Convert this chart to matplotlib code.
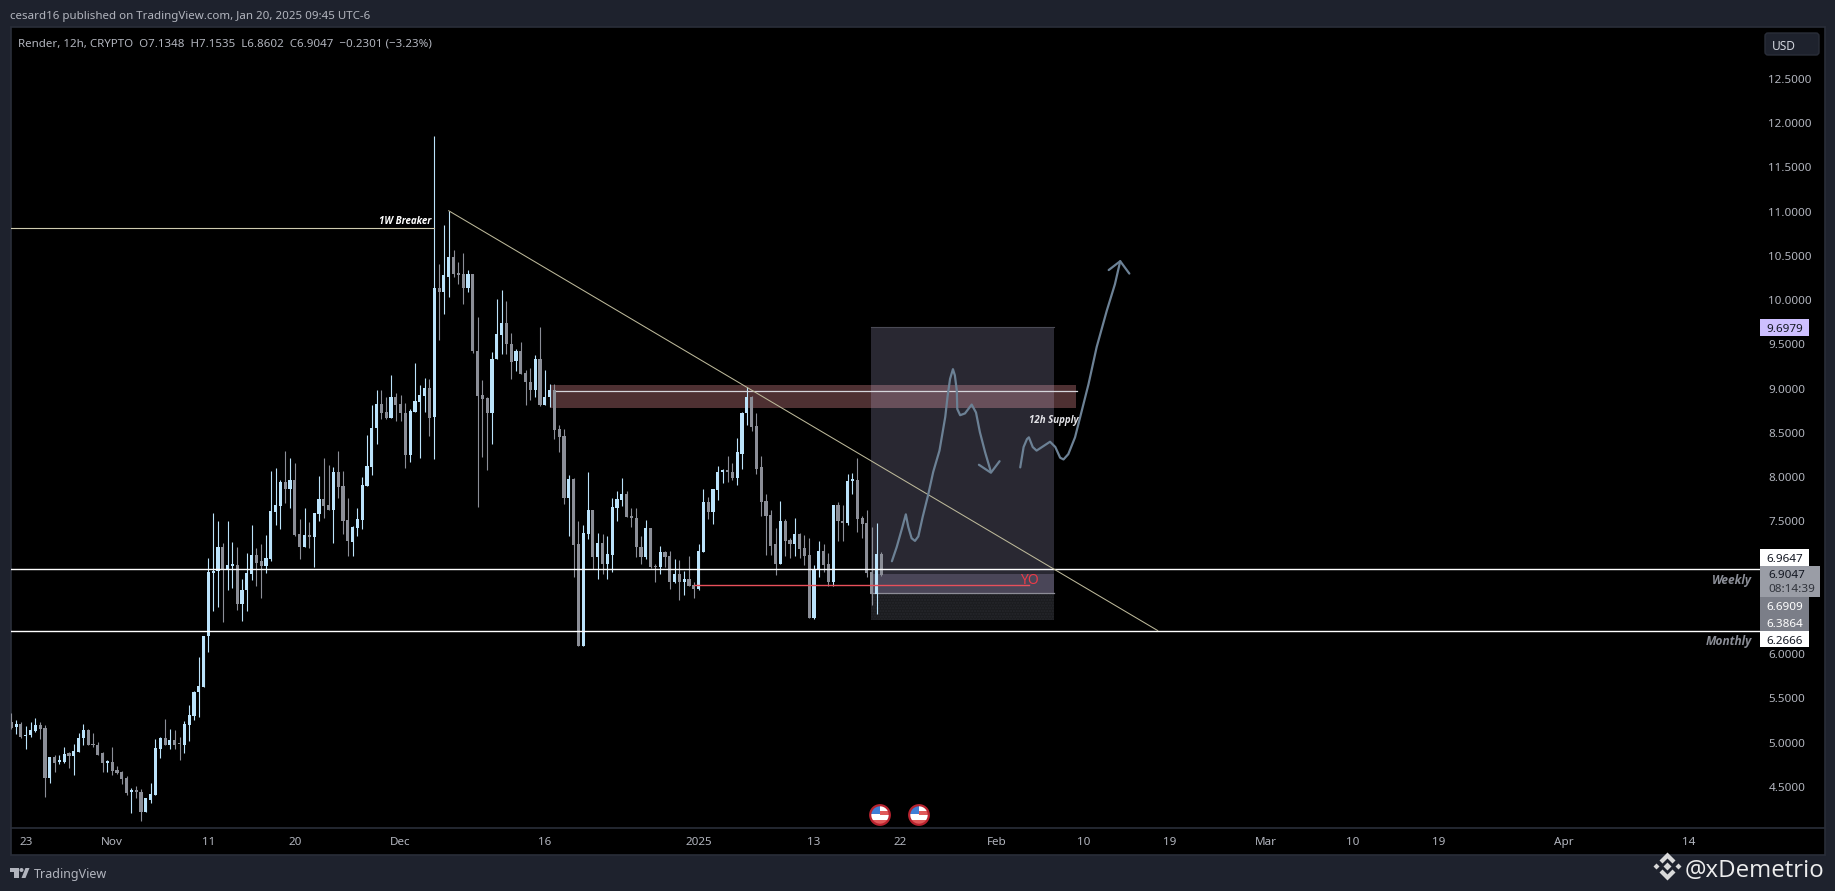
import matplotlib
matplotlib.use("Agg")
import matplotlib.pyplot as plt
import pandas as pd
from matplotlib.patches import Rectangle, Polygon, Circle, FancyBboxPatch

W, H = 1835, 891
plt.rcParams['font.family'] = ['Noto Sans', 'DejaVu Sans']

# candles, 12h bars from Oct 21 12:00
first_bar = pd.Timestamp("2024-10-21 12:00")
direction = ("duduu uddud uuduu udddd udddd uddUu uudud duuuu uuuud uuduu uddUu uudud duduu ddudd duuuu uuddu "
             "ddduu uudud uuddd udddd uuudd udddu duudd duddu ududu uuudd ddudd uddud uddUu duuud duuud ddddd "
             "uddud dduud duddu udddd ud").replace(" ", "").lower()
highs = [5.34,5.26,5.23,5.19,5.23,5.28,5.23,5.20,4.84,4.86,
         4.86,4.95,4.89,4.98,5.11,5.21,5.15,5.11,5.01,4.89,
         4.80,4.95,4.74,4.68,4.62,4.49,4.51,4.48,4.38,4.54,
         5.04,5.06,5.27,5.15,5.14,5.06,5.24,5.43,5.58,5.97,
         6.21,7.09,7.59,7.51,7.26,7.51,7.27,7.21,6.85,7.14,
         7.46,7.20,7.25,7.35,8.07,8.10,7.97,8.30,8.22,8.16,
         7.53,7.65,7.49,7.59,8.01,8.22,8.14,8.11,8.30,8.07,
         7.76,7.45,7.65,8.00,8.48,8.81,8.99,8.99,8.91,9.15,
         8.95,8.93,8.84,8.77,9.29,9.04,9.12,9.11,11.86,10.41,
         10.85,11.01,10.57,10.43,10.53,10.34,10.29,9.81,9.10,8.91,
         9.41,10.01,10.11,9.99,9.63,9.45,9.53,9.21,9.23,9.38,
         9.70,9.21,9.05,9.05,8.59,8.54,8.02,7.99,7.51,7.46,
         8.06,7.63,7.37,7.36,7.34,7.77,7.84,7.99,7.84,7.65,
         7.65,7.33,7.52,7.43,7.02,7.22,7.17,7.17,7.07,7.06,
         6.94,7.11,6.82,7.25,7.87,7.78,7.87,8.13,8.09,8.24,
         8.16,8.44,8.74,9.02,8.92,8.72,8.24,7.81,7.63,7.42,
         7.73,7.53,7.31,7.54,7.37,7.35,7.31,7.01,7.28,7.24,
         7.14,7.69,7.72,7.68,8.03,8.05,8.22,7.56,7.63,7.44,7.48,7.16]
body_top = [5.23,5.21,5.21,5.09,5.14,5.20,5.20,5.17,4.84,4.84,
            4.79,4.87,4.88,4.91,5.05,5.14,5.14,4.98,4.97,4.88,
            4.79,4.78,4.69,4.67,4.60,4.45,4.45,4.44,4.37,4.42,
            4.94,5.05,5.05,5.03,5.03,4.99,5.21,5.31,5.57,5.64,
            6.21,6.93,6.94,7.21,7.21,7.01,7.01,7.01,6.73,6.92,
            7.12,7.12,7.05,7.09,7.62,7.68,7.94,7.94,7.97,7.97,
            7.36,7.35,7.35,7.59,7.75,7.75,7.68,8.06,8.06,7.90,
            7.52,7.44,7.53,7.91,8.13,8.56,8.83,8.83,8.74,8.90,
            8.90,8.83,8.73,8.75,8.86,8.93,9.01,9.01,10.14,10.14,
            10.28,10.49,10.49,10.31,10.29,10.29,10.29,9.43,8.93,8.89,
            9.34,9.62,9.74,9.74,9.51,9.42,9.42,9.18,9.08,9.33,
            9.33,8.90,8.99,8.99,8.54,8.46,7.98,7.98,7.24,7.37,
            7.63,7.63,7.26,7.26,7.13,7.66,7.75,7.81,7.81,7.55,
            7.54,7.21,7.42,7.42,7.00,7.15,7.15,7.11,6.91,6.91,
            6.85,6.85,6.78,7.17,7.72,7.72,7.87,8.06,8.07,8.07,
            8.06,8.28,8.73,8.91,8.91,8.58,8.11,7.73,7.57,7.24,
            7.51,7.51,7.29,7.36,7.36,7.20,7.12,6.96,7.17,7.17,
            7.02,7.68,7.68,7.51,7.96,7.97,7.97,7.54,7.48,6.93,7.13,7.13]
body_bottom = [5.17,5.18,5.06,5.07,5.09,5.13,5.16,4.60,4.60,4.77,
               4.78,4.78,4.85,4.85,4.89,5.05,4.97,4.97,4.86,4.77,
               4.77,4.68,4.66,4.59,4.43,4.44,4.44,4.22,4.22,4.35,
               4.41,4.93,4.97,4.97,4.97,4.98,4.97,5.20,5.30,5.57,
               5.63,6.20,6.92,6.94,6.95,6.95,7.00,6.57,6.57,6.72,
               6.91,7.03,7.00,7.00,7.08,7.61,7.67,7.87,7.87,7.35,
               7.21,7.21,7.32,7.32,7.58,7.67,7.63,7.63,7.89,7.51,
               7.28,7.27,7.43,7.52,7.90,8.12,8.55,8.73,8.67,8.67,
               8.82,8.72,8.25,8.25,8.74,8.85,8.92,8.67,8.68,10.09,
               10.09,10.26,10.30,10.28,10.14,10.14,9.42,8.92,8.88,8.72,
               8.72,9.33,9.61,9.50,9.30,9.31,9.17,9.07,8.99,8.99,
               8.82,8.82,8.90,8.53,8.45,7.77,7.77,7.23,6.09,6.09,
               7.36,7.10,7.10,7.02,7.02,7.12,7.65,7.74,7.55,7.54,
               7.21,7.10,7.10,6.99,6.98,6.98,7.10,6.82,6.82,6.82,
               6.82,6.77,6.74,6.74,7.16,7.61,7.61,7.86,8.06,8.06,
               7.99,7.99,8.26,8.72,8.57,8.09,7.72,7.56,7.22,7.02,
               7.02,7.28,7.24,7.24,7.19,7.11,6.41,6.41,6.95,7.01,
               6.81,6.81,7.50,7.48,7.48,7.96,7.53,7.47,6.92,6.68,6.68,6.90]
lows = [5.16,5.10,5.05,4.93,5.06,5.12,5.04,4.39,4.54,4.67,
        4.76,4.77,4.71,4.64,4.89,4.97,4.97,4.95,4.86,4.67,
        4.67,4.63,4.65,4.53,4.41,4.21,4.37,4.12,4.22,4.32,
        4.41,4.83,4.97,4.93,4.93,4.80,4.88,5.02,5.26,5.29,
        5.63,6.02,6.49,6.53,6.36,6.73,6.75,6.50,6.38,6.49,
        6.84,6.77,6.64,6.92,7.05,7.46,7.41,7.71,7.65,7.34,
        7.08,7.21,7.20,6.98,7.51,7.54,7.63,7.26,7.76,7.36,
        7.11,7.11,7.33,7.41,7.90,8.02,8.37,8.66,8.66,8.67,
        8.64,8.64,8.10,8.17,8.74,8.22,8.74,8.47,8.20,9.55,
        9.84,10.04,10.26,10.18,9.96,10.09,9.40,7.66,8.23,8.08,
        8.38,9.33,9.39,9.39,9.11,9.20,9.17,8.81,8.87,8.90,
        8.80,8.82,8.79,8.43,8.28,7.70,7.34,6.87,6.09,6.09,
        7.30,6.96,6.85,6.91,6.85,6.93,7.51,7.67,7.55,7.44,
        7.10,7.02,7.07,6.97,6.82,6.91,6.99,6.74,6.80,6.61,
        6.67,6.77,6.63,6.73,7.15,7.53,7.47,7.74,7.93,7.95,
        7.97,7.91,8.09,8.59,8.52,8.04,7.56,7.12,7.12,6.90,
        7.02,7.11,7.09,7.11,7.09,7.01,6.41,6.40,6.87,6.93,
        6.77,6.77,7.28,7.28,7.46,7.81,7.38,7.31,6.87,6.55,6.45,6.88]

price_ticks = [12.5,12.0,11.5,11.0,10.5,10.0,9.5,9.0,8.5,8.0,7.5,6.0,5.5,5.0,4.5]
tick_dates = ["2024-10-23","2024-11-01","2024-11-11","2024-11-20","2024-12-01","2024-12-16",
              "2025-01-01","2025-01-13","2025-01-22","2025-02-01","2025-02-10","2025-02-19",
              "2025-03-01","2025-03-10","2025-03-19","2025-04-01","2025-04-14"]
tick_labels = ["23","Nov","11","20","Dec","16","2025","13","22","Feb","10","19","Mar","10","19","Apr","14"]

# drawings, (bar, price)
weekly_level = 6.9647
monthly_level = 6.2666
breaker_level = 10.82
supply_line = 8.975
supply_zone = (112, 221.6, 8.776, 9.036)
position_box = (178.9, 217.0)
position_levels = (9.6979, 6.9047, 6.6909, 6.3864)
red_line = (142, 211.8, 6.78)
trend_bars = [91, 238.5]
trend_prices = [11.01, 6.2666]
sketch1_bars = [183.2,184.2,185.3,186.1,186.6,187.3,188.0,188.7,189.6,190.7,191.8,193.1,194.3,194.8,195.3,195.9,
                196.3,196.7,196.8,197.4,198.4,199.8,200.7,201.5,202.6,203.8]
sketch1_prices = [7.05,7.21,7.42,7.58,7.44,7.31,7.28,7.33,7.55,7.79,8.06,8.30,8.68,8.92,9.11,9.22,
                  9.15,8.98,8.77,8.70,8.72,8.82,8.73,8.51,8.28,8.06]
head1_bars = [201.3,203.8,205.6]
head1_prices = [8.14,8.05,8.18]
sketch2_bars = [209.9,210.6,211.3,211.7,212.5,213.3,214.7,216.1,217.2,218.2,218.9,219.9,221.3,222.7,224.1,225.8,
                227.9,229.6,230.7]
sketch2_prices = [8.11,8.34,8.43,8.45,8.34,8.30,8.35,8.40,8.34,8.22,8.20,8.26,8.45,8.75,9.05,9.47,
                  9.88,10.18,10.44]
head2_bars = [228.3,230.7,232.6]
head2_prices = [10.34,10.44,10.30]

UP = "#BBE3FB"
DOWN = "#8B8E97"
FRAME = "#1E222D"
BORDER = "#2A2E39"
TEXT = "#B2B5BE"
SKETCH = "#6C8195"
OPEN_SANS = ["Open Sans", "DejaVu Sans"]

fig = plt.figure(figsize=(W / 100, H / 100), dpi=100, facecolor=FRAME)


def px_axes(zorder):
    a = fig.add_axes([0, 0, 1, 1], zorder=zorder)
    a.set_xlim(0, W)
    a.set_ylim(H, 0)
    a.set_axis_off()
    a.patch.set_alpha(0)
    return a


back = px_axes(0)
back.add_patch(Rectangle((10.5, 27), 1814, 828, fc="black", ec=BORDER, lw=1.2))
back.plot([11, 1824], [828, 828], color=BORDER, lw=1.2)

# main pane, pixel bounds 11..1760 x 27..828
ax = fig.add_axes([11 / W, 1 - 828 / H, (1760 - 11) / W, (828 - 27) / H], zorder=1)
ax.set_facecolor("none")
for s in ax.spines.values():
    s.set_visible(False)
ax.set_xlim(-0.06, 363.8)
ax.set_ylim(4.036, 13.086)

bars = list(range(len(highs)))
colors = [UP if d == "u" else DOWN for d in direction]

zx0, zx1, zy0, zy1 = supply_zone
ax.add_patch(Rectangle((zx0, zy0), zx1 - zx0, zy1 - zy0, fc="#4E3032", ec="none", zorder=1))
bx0, bx1 = position_box
p_top, p_entry, p_stop, p_low = position_levels
ax.add_patch(Rectangle((bx0, p_entry), bx1 - bx0, p_top - p_entry, fc="#D2CDFF", alpha=0.2, ec="none", zorder=2))
ax.add_patch(Rectangle((bx0, p_stop), bx1 - bx0, p_entry - p_stop, fc="#4A4658", ec="none", zorder=2))
ax.add_patch(Rectangle((bx0, p_low), bx1 - bx0, p_stop - p_low, fc="#1B1C1F", ec="#26272C", lw=0, hatch="......", zorder=2))
ax.plot([bx0, bx1], [p_top, p_top], color="#4A4A55", lw=0.8, zorder=2)
ax.plot([bx0, bx1], [p_stop, p_stop], color="#8D8D97", lw=0.9, zorder=2.5)

ax.vlines(bars, lows, highs, colors=colors, lw=0.8, zorder=3)
ax.bar(bars, [max(t - b, 0.02) for t, b in zip(body_top, body_bottom)], bottom=body_bottom,
       width=0.66, color=colors, linewidth=0, zorder=3)

ax.axhline(weekly_level, color="white", lw=1.0, zorder=4)
ax.axhline(monthly_level, color="white", lw=1.0, zorder=4)
ax.plot([-0.06, 88], [breaker_level, breaker_level], color="#CFCBB0", lw=0.8, zorder=4)
ax.plot([113.3, 221.7], [supply_line, supply_line], color="#D6D6DC", lw=0.9, zorder=4)
ax.plot(trend_bars, trend_prices, color="#BDB99A", lw=0.75, zorder=4)
ax.plot(red_line[:2], [red_line[2], red_line[2]], color="#E8505B", lw=1.0, zorder=4)

for xs, ys in ((sketch1_bars, sketch1_prices), (head1_bars, head1_prices),
               (sketch2_bars, sketch2_prices), (head2_bars, head2_prices)):
    ax.plot(xs, ys, color=SKETCH, lw=1.6, solid_joinstyle="round", solid_capstyle="round", zorder=5)

ax.text(87.3, 10.91, "1W Breaker", color="white", fontsize=7.0, style="italic", weight="bold",
        family=OPEN_SANS, ha="right", va="center_baseline", zorder=6)
ax.text(216.8, 8.66, "12h Supply", color="#E4E4E8", fontsize=7.0, style="italic", weight="bold",
        family=OPEN_SANS, ha="center", va="center_baseline", zorder=6)
ax.text(211.8, 6.85, "YO", color="#EE3B48", fontsize=10, ha="center", va="center_baseline", zorder=6)

ax.yaxis.tick_right()
ax.set_yticks(price_ticks, [f"{p:.4f}" for p in price_ticks])
tick_pos = [(pd.Timestamp(d) - first_bar) / pd.Timedelta(hours=12) for d in tick_dates]
ax.set_xticks(tick_pos, tick_labels)
ax.tick_params(axis="y", length=0, pad=6, labelsize=8.4, labelcolor=TEXT)
ax.tick_params(axis="x", length=0, pad=6.5, labelsize=8.4, labelcolor=TEXT)
for lab in ax.get_yticklabels():
    lab.set_va("center_baseline")
ax.get_xticklabels()[6].set_fontweight("bold")

top = px_axes(2)
top.text(10, 15, "cesard16 published on TradingView.com, Jan 20, 2025 09:45 UTC-6", color=TEXT,
         fontsize=8.3, va="center_baseline", ha="left")
top.text(18, 42, "Render, 12h, CRYPTO  O7.1348  H7.1535  L6.8602  C6.9047  \u22120.2301 (\u22123.23%)",
         color=TEXT, fontsize=8.3, va="center_baseline", ha="left")

# USD button and price tags
top.add_patch(FancyBboxPatch((1765, 33), 54, 22, boxstyle="round,pad=0,rounding_size=3", fc=FRAME, ec=BORDER, lw=1))
top.text(1772, 44.5, "USD", color="#D1D4DC", fontsize=8.6, va="center_baseline", ha="left")


def tag(y0, y1, color, x1=1809):
    top.add_patch(Rectangle((1760, y0), x1 - 1760, y1 - y0, fc=color, ec="none"))


def tag_text(y, s, color):
    top.text(1784.5, y, s, color=color, fontsize=8.4, ha="center", va="center_baseline")


tag(319, 336, "#CDBFFF")
tag_text(327.5, "9.6979", "#131722")
tag(549, 566, "white")
tag_text(557.5, "6.9647", "#131722")
tag(566, 597, "#9A9DA6", 1820)
top.text(1768, 574, "6.9047", color="#131722", fontsize=8.4, ha="left", va="center_baseline")
top.text(1768, 588.5, "08:14:39", color="#30333B", fontsize=8.4, ha="left", va="center_baseline")
tag(597, 631, "#7B7E88")
tag_text(606, "6.6909", "white")
tag_text(623, "6.3864", "white")
tag(631, 647, "white")
tag_text(639.5, "6.2666", "#131722")

top.text(1752, 579, "Weekly", color="#8B8E97", fontsize=8.6, style="italic", family=OPEN_SANS, weight="bold",
         ha="right", va="center_baseline")
top.text(1752, 640, "Monthly", color="#8B8E97", fontsize=8.6, style="italic", family=OPEN_SANS, weight="bold",
         ha="right", va="center_baseline")

# event flags
for cx in (880, 919):
    disc = Circle((cx, 815), 9.5, fc="white", ec="none")
    top.add_patch(disc)
    for r, c in (((cx - 10, 805), "#3F7FD6"), ((cx, 811), "#E05A5A"), ((cx - 10, 820), "#E05A5A")):
        w_, h_ = (10, 9) if c == "#3F7FD6" else (20, 3.5)
        p = Rectangle(r, w_, h_, fc=c, ec="none")
        top.add_patch(p)
        p.set_clip_path(disc)
    top.add_patch(Circle((cx, 815), 9.8, fc="none", ec="#B8232F", lw=1.6))

# TradingView logo
top.add_patch(Polygon([(10, 868), (19, 868), (19, 878), (14, 878), (14, 872), (10, 872)], fc=TEXT, ec="none"))
top.add_patch(Circle((21.5, 870), 2, fc=TEXT, ec="none"))
top.add_patch(Polygon([(25.5, 868), (29.5, 868), (25.5, 878), (21.5, 878)], fc=TEXT, ec="none"))
top.text(33.5, 873, "TradingView", color=TEXT, fontsize=9.0, va="center_baseline", ha="left")

# watermark
cx, cy = 1667.5, 866.5
LOGO = "#D9D9D9"
top.add_patch(Polygon([(cx - 4, cy), (cx, cy - 4), (cx + 4, cy), (cx, cy + 4)], fc=LOGO, ec="none"))
for dx in (-11, 11):
    top.add_patch(Polygon([(cx + dx - 3, cy), (cx + dx, cy - 3), (cx + dx + 3, cy), (cx + dx, cy + 3)], fc=LOGO, ec="none"))
for s in (-1, 1):
    pts = [(0, 14), (8, 6), (5, 3), (0, 8), (-5, 3), (-8, 6)]
    top.add_patch(Polygon([(cx + a, cy + s * b) for a, b in pts], fc=LOGO, ec="none"))
top.text(1685, 868, "@xDemetrio", color="#EDEDED", fontsize=17.3, family=OPEN_SANS, va="center_baseline", ha="left")

fig.savefig("out.png", dpi=100, facecolor=FRAME)
